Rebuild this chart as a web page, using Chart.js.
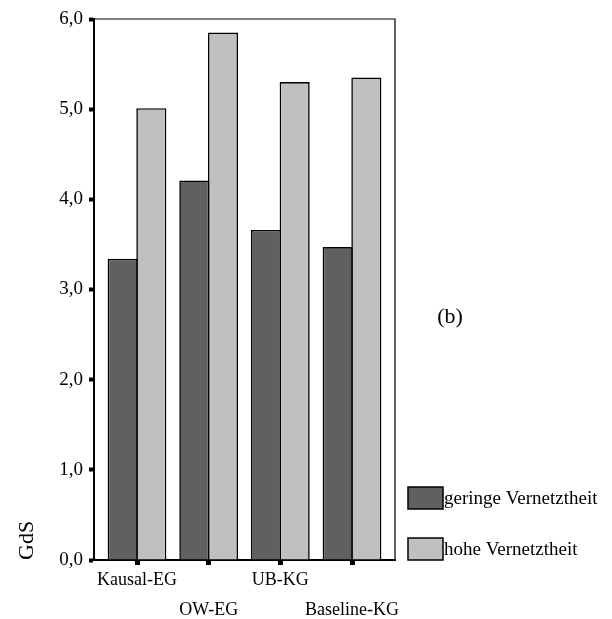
<!DOCTYPE html>
<html>
<head>
<meta charset="utf-8">
<script src="https://cdn.jsdelivr.net/npm/chart.js@4.4.1/dist/chart.umd.min.js"></script>
<style>
  html, body { margin: 0; padding: 0; background: #fff; }
  #wrap { width: 612px; height: 619px; }
</style>
</head>
<body>
<div id="wrap"><canvas id="myChart"></canvas></div>
<script>
// values
var categories = ['Kausal-EG', 'OW-EG', 'UB-KG', 'Baseline-KG'];
var seriesNames = ['geringe Vernetztheit', 'hohe Vernetztheit'];
var geringe = [3.34, 4.21, 3.66, 3.47];
var hohe = [5.01, 5.85, 5.30, 5.35];
var yTicks = [0, 1, 2, 3, 4, 5, 6];

var serif = 'Liberation Serif, Times New Roman, serif';

function toPoints(vals) {
  return vals.map(function (v, i) { return { x: i, y: v }; });
}

// top + right frame lines, the "(b)" mark and the legend
var extras = {
  id: 'extras',
  afterDatasetsDraw: function (chart) {
    var ctx = chart.ctx;
    var a = chart.chartArea;
    ctx.save();
    ctx.strokeStyle = '#000';
    ctx.lineWidth = 1.2;
    ctx.beginPath();
    ctx.moveTo(a.left, a.top);
    ctx.lineTo(a.right, a.top);
    ctx.lineTo(a.right, a.bottom);
    ctx.stroke();

    ctx.fillStyle = '#000';
    ctx.font = '22px ' + serif;
    ctx.textAlign = 'center';
    ctx.textBaseline = 'middle';
    ctx.fillText('(b)', 450, 317);

    ctx.font = '19px ' + serif;
    ctx.textAlign = 'left';
    chart.data.datasets.forEach(function (ds, i) {
      var y = 487 + i * 51;
      ctx.fillStyle = ds.backgroundColor;
      ctx.fillRect(408, y, 35, 22);
      ctx.lineWidth = 1.5;
      ctx.strokeStyle = '#000';
      ctx.strokeRect(408, y, 35, 22);
      ctx.fillStyle = '#000';
      ctx.fillText(ds.label, 444, y + 12);
    });
    ctx.restore();
  }
};

var ctx = document.getElementById('myChart').getContext('2d');
var myChart = new Chart(ctx, {
  type: 'bar',
  data: {
    datasets: [{
      label: seriesNames[0],
      data: toPoints(geringe),
      backgroundColor: '#606060',
      borderColor: '#000',
      borderWidth: 1.6,
      borderSkipped: 'bottom'
    }, {
      label: seriesNames[1],
      data: toPoints(hohe),
      backgroundColor: '#c0c0c0',
      borderColor: '#000',
      borderWidth: 1.6,
      borderSkipped: 'bottom'
    }]
  },
  options: {
    responsive: true,
    maintainAspectRatio: false,
    animation: false,
    devicePixelRatio: 1,
    categoryPercentage: 0.8,
    barPercentage: 1.05,
    layout: { padding: { top: 19, right: 217, left: 0, bottom: 0 } },
    plugins: {
      legend: { display: false },
      tooltip: { enabled: false }
    },
    scales: {
      x: {
        type: 'linear',
        offset: false,
        min: -0.6,
        max: 3.6,
        afterBuildTicks: function (scale) {
          scale.ticks = categories.map(function (c, i) { return { value: i }; });
        },
        afterFit: function (scale) { scale.height = 59; },
        border: { display: true, color: '#000', width: 2 },
        grid: {
          offset: false,
          drawOnChartArea: false,
          drawTicks: true,
          tickLength: 5,
          tickWidth: 5,
          tickColor: '#000'
        },
        ticks: {
          autoSkip: false,
          maxRotation: 0,
          padding: 0,
          color: '#000',
          font: { family: serif, size: 18, lineHeight: 1.67 },
          callback: function (value, index) {
            var name = categories[value];
            return index % 2 ? ['', name] : name;
          }
        }
      },
      y: {
        min: 0,
        max: 6,
        afterBuildTicks: function (scale) {
          scale.ticks = yTicks.map(function (v) { return { value: v }; });
        },
        afterFit: function (scale) { scale.width = 94; },
        border: { display: true, color: '#000', width: 2 },
        grid: {
          drawOnChartArea: false,
          drawTicks: true,
          tickLength: 5,
          tickWidth: 4,
          tickColor: '#000'
        },
        ticks: {
          padding: 6,
          color: '#000',
          font: { family: serif, size: 19 },
          callback: function (value) { return value.toFixed(1).replace('.', ','); }
        },
        title: {
          display: true,
          text: 'GdS',
          align: 'start',
          color: '#000',
          padding: { top: 14, bottom: 0 },
          font: { family: serif, size: 22 }
        }
      }
    }
  },
  plugins: [extras]
});
</script>
</body>
</html>
